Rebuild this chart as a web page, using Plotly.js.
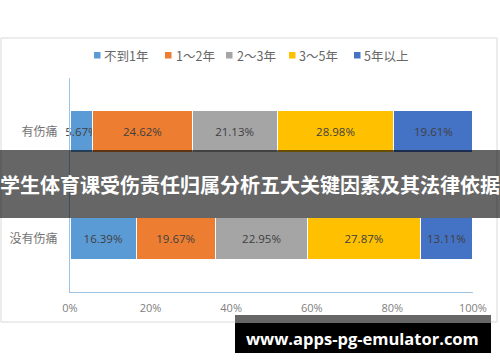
<!DOCTYPE html>
<html>
<head>
<meta charset="utf-8">
<script src="https://cdn.plot.ly/plotly-3.0.1.min.js"></script>
<style>
html,body{margin:0;padding:0;background:#fff;}
#chart{width:500px;height:362px;}
</style>
</head>
<body>
<div id="chart"></div>
<script>
// ---- data ----
var categories = ['有伤痛', '没有伤痛'];
var seriesNames = ['不到1年', '1～2年', '2～3年', '3～5年', '5年以上'];
var lessThan1 = [5.67, 16.39];
var oneToTwo = [24.62, 19.67];
var twoToThree = [21.13, 22.95];
var threeToFive = [28.98, 27.87];
var fivePlus = [19.61, 13.11];
var xTickVals = [0, 20, 40, 60, 80, 100];
var xTickText = ['0%', '20%', '40%', '60%', '80%', '100%'];
var bannerText = '学生体育课受伤责任归属分析五大关键因素及其法律依据';
var watermarkText = 'www.apps-pg-emulator.com';

var seriesValues = [lessThan1, oneToTwo, twoToThree, threeToFive, fivePlus];
var colors = ['#5B9BD5', '#ED7D31', '#A5A5A5', '#FFC000', '#4472C4'];

var traces = seriesNames.map(function (name, i) {
  return {
    type: 'bar',
    orientation: 'h',
    name: name,
    y: categories,
    x: seriesValues[i],
    marker: { color: colors[i], line: { color: '#ffffff', width: 1 } },
    texttemplate: '%{x:.2f}%',
    textposition: 'inside',
    insidetextanchor: 'middle',
    constraintext: 'none',
    textangle: 0,
    cliponaxis: false,
    textfont: { family: 'Open Sans, Liberation Sans, sans-serif', size: 11.5, color: '#404040' },
    hoverinfo: 'skip',
    showlegend: false
  };
});

// pixel helpers for paper coords (plot area x:70..473, y:78..292)
var L = 70, R = 473, T = 78, B = 292;
function px(x) { return (x - L) / (R - L); }
function py(y) { return (B - y) / (B - T); }

// legend layout (pixel positions of swatch left edge and text start)
var legendSwatchX = [94, 165, 226, 289, 354];
var legendTextX = [103, 175, 236, 298, 363];
var legendY = 55;

var shapes = [
  { type: 'rect', xref: 'paper', yref: 'paper', layer: 'below',
    x0: px(1), x1: px(497), y0: py(322), y1: py(38),
    line: { color: '#D9D9D9', width: 1 }, fillcolor: 'rgba(0,0,0,0)' },
  { type: 'rect', xref: 'paper', yref: 'paper', layer: 'above',
    x0: px(0), x1: px(500), y0: py(218), y1: py(150),
    line: { width: 0 }, fillcolor: 'rgba(0,0,0,0.6)' },
  { type: 'rect', xref: 'paper', yref: 'paper', layer: 'above',
    x0: px(235), x1: px(491), y0: py(323), y1: py(315),
    line: { width: 0 }, fillcolor: '#666666' },
  { type: 'rect', xref: 'paper', yref: 'paper', layer: 'above',
    x0: px(235), x1: px(491), y0: py(353), y1: py(323),
    line: { width: 0 }, fillcolor: '#000000' }
];
var annotations = [
  { xref: 'paper', yref: 'paper', x: px(250), y: py(184), xanchor: 'center', yanchor: 'middle',
    showarrow: false, text: '<b>' + bannerText + '</b>',
    font: { family: 'Noto Sans CJK SC, sans-serif', size: 20, color: '#ffffff' } },
  { xref: 'paper', yref: 'paper', x: px(362), y: py(338), xanchor: 'center', yanchor: 'middle',
    showarrow: false, text: '<b>' + watermarkText + '</b>',
    font: { family: 'Open Sans, DejaVu Sans, sans-serif', size: 16.5, color: '#ffffff' } }
];
seriesNames.forEach(function (name, i) {
  shapes.push({ type: 'rect', xref: 'paper', yref: 'paper', layer: 'above',
    x0: px(legendSwatchX[i]), x1: px(legendSwatchX[i] + 6.5),
    y0: py(legendY + 3.5), y1: py(legendY - 3),
    line: { width: 0 }, fillcolor: colors[i] });
  annotations.push({ xref: 'paper', yref: 'paper', x: px(legendTextX[i] - 1), y: py(legendY),
    xanchor: 'left', yanchor: 'middle', showarrow: false, text: name,
    font: { family: 'Noto Sans CJK SC, sans-serif', size: 12.5, color: '#666666' } });
});

var layout = {
  width: 500,
  height: 362,
  margin: { l: 70, r: 27, t: 78, b: 70, pad: 0 },
  paper_bgcolor: '#ffffff',
  plot_bgcolor: '#ffffff',
  barmode: 'stack',
  bargap: 0.61,
  showlegend: false,
  xaxis: {
    range: [0, 100.03],
    tickvals: xTickVals,
    ticktext: xTickText,
    showgrid: false,
    zeroline: false,
    showline: true,
    linecolor: '#9DC3E6',
    linewidth: 1,
    ticks: 'outside',
    ticklen: 6,
    tickcolor: 'rgba(0,0,0,0)',
    tickfont: { family: 'Open Sans, Liberation Sans, sans-serif', size: 11, color: '#808080' },
    fixedrange: true
  },
  yaxis: {
    type: 'category',
    autorange: 'reversed',
    showgrid: false,
    zeroline: false,
    showline: true,
    linecolor: '#9DC3E6',
    linewidth: 1,
    ticks: 'outside',
    ticklen: 9,
    tickcolor: 'rgba(0,0,0,0)',
    tickfont: { family: 'Noto Sans CJK SC, sans-serif', size: 12, color: '#737373' },
    fixedrange: true
  },
  shapes: shapes,
  annotations: annotations
};

Plotly.newPlot('chart', traces, layout, { displayModeBar: false, staticPlot: true });
</script>
</body>
</html>
